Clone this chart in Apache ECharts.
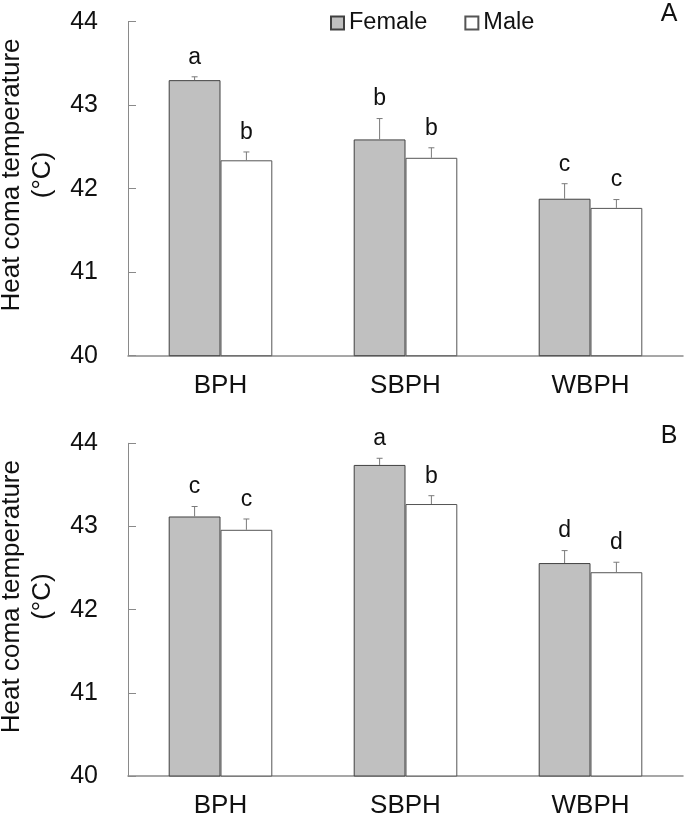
<!DOCTYPE html>
<html>
<head>
<meta charset="utf-8">
<script src="https://cdn.jsdelivr.net/npm/echarts@6/dist/echarts.min.js"></script>
<style>
  html, body { margin: 0; padding: 0; background: #fff; }
  #chart { width: 685px; height: 819px; }
</style>
</head>
<body>
<div id="chart"></div>
<script>
// ---- Data ----
const categories = ['BPH', 'SBPH', 'WBPH'];
const yTicks = [40, 41, 42, 43, 44];

// Panel A
const femaleA = [43.30, 42.59, 41.88];
const femaleAErr = [0.04, 0.25, 0.18];
const maleA = [42.34, 42.37, 41.77];
const maleAErr = [0.10, 0.12, 0.10];
const lettersFemaleA = ['a', 'b', 'c'];
const lettersMaleA = ['b', 'b', 'c'];

// Panel B
const femaleB = [43.12, 43.74, 42.56];
const femaleBErr = [0.12, 0.08, 0.15];
const maleB = [42.96, 43.27, 42.45];
const maleBErr = [0.13, 0.10, 0.12];
const lettersFemaleB = ['c', 'a', 'd'];
const lettersMaleB = ['c', 'b', 'd'];

const seriesNames = ['Female', 'Male'];
const panelLabels = ['A', 'B'];
const yTitle = 'Heat coma temperature';
const yUnit = '(°C)';

// ---- Styling ----
const FONT = 'Liberation Sans, Arial, sans-serif';
const AXIS_COLOR = '#8a8a8a';
const BAR_W = 0.28;

const chart = echarts.init(document.getElementById('chart'), null, { renderer: 'canvas' });

const grids = [
  { left: 128, right: 2, top: 21.7, bottom: 463.3 },
  { left: 128, right: 2, top: 443.3, bottom: 42.3 }
];

function xAxis(gi) {
  return {
    type: 'category', gridIndex: gi, data: categories,
    axisLine: { lineStyle: { color: AXIS_COLOR, width: 1.5 } },
    axisTick: { show: false },
    axisLabel: { fontFamily: FONT, fontSize: 26, color: '#111', margin: 17 }
  };
}
function yAxis(gi) {
  return {
    type: 'value', gridIndex: gi, min: yTicks[0], max: yTicks[yTicks.length - 1], interval: 1,
    axisLine: { show: true, lineStyle: { color: AXIS_COLOR, width: 1 } },
    axisTick: { show: true, inside: true, length: 8, lineStyle: { color: AXIS_COLOR } },
    splitLine: { show: false },
    axisLabel: { fontFamily: FONT, fontSize: 25, color: '#111', margin: 30 }
  };
}

function barSeries(name, gi, values, color, border) {
  return {
    name: name, type: 'bar', xAxisIndex: gi, yAxisIndex: gi,
    data: values, barWidth: (BAR_W * 100) + '%', barGap: '0%',
    itemStyle: { color: color, borderColor: border, borderWidth: 1 },
    emphasis: { disabled: true }, z: 2
  };
}

function errSeries(gi, values, errs, letters, side) {
  const data = values.map((v, i) => [i, v, errs[i], letters[i]]);
  return {
    type: 'custom', xAxisIndex: gi, yAxisIndex: gi, z: 5, silent: true,
    data: data,
    encode: { x: 0, y: 1 },
    renderItem: function (params, api) {
      const idx = api.value(0);
      const v = api.value(1);
      const e = api.value(2);
      const letter = data[params.dataIndex][3];
      const band = api.size([1, 0])[0];
      const off = side * BAR_W * band / 2;
      const p0 = api.coord([idx, v]);
      const p1 = api.coord([idx, v + e]);
      const x = p0[0] + off;
      return {
        type: 'group',
        children: [
          { type: 'line', shape: { x1: x, y1: p0[1], x2: x, y2: p1[1] },
            style: { stroke: '#7a7a7a', lineWidth: 1 } },
          { type: 'line', shape: { x1: x - 3, y1: p1[1], x2: x + 3, y2: p1[1] },
            style: { stroke: '#7a7a7a', lineWidth: 1 } },
          { type: 'text', x: x, y: p1[1] - 8,
            style: { text: letter, fontFamily: FONT, fontSize: 23, fill: '#111',
                     textAlign: 'center', textVerticalAlign: 'bottom' } }
        ]
      };
    }
  };
}

const graphics = [];
[[175, 14], [596.6, 436]].forEach((pos, i) => {
  graphics.push({ type: 'text', x: 12, y: pos[0], rotation: Math.PI / 2,
    style: { text: yTitle, fontFamily: FONT, fontSize: 26, fill: '#111', textAlign: 'center', textVerticalAlign: 'middle' } });
  graphics.push({ type: 'text', x: 43, y: pos[0], rotation: Math.PI / 2,
    style: { text: yUnit, fontFamily: FONT, fontSize: 26, fill: '#111', textAlign: 'center', textVerticalAlign: 'middle' } });
  graphics.push({ type: 'text', x: 669, y: pos[1],
    style: { text: panelLabels[i], fontFamily: FONT, fontSize: 25, fill: '#111', textAlign: 'center', textVerticalAlign: 'middle' } });
});

const option = {
  animation: false,
  backgroundColor: '#fff',
  legend: {
    data: seriesNames, left: 325, top: 6, icon: 'rect',
    itemWidth: 13, itemHeight: 13, itemGap: 37,
    textStyle: { fontFamily: FONT, fontSize: 23.5, color: '#111' },
    selectedMode: false
  },
  grid: grids,
  xAxis: [xAxis(0), xAxis(1)],
  yAxis: [yAxis(0), yAxis(1)],
  graphic: graphics,
  series: [
    barSeries(seriesNames[0], 0, femaleA, '#c0c0c0', '#404040'),
    barSeries(seriesNames[1], 0, maleA, '#ffffff', '#555555'),
    barSeries(seriesNames[0], 1, femaleB, '#c0c0c0', '#404040'),
    barSeries(seriesNames[1], 1, maleB, '#ffffff', '#555555'),
    errSeries(0, femaleA, femaleAErr, lettersFemaleA, -1),
    errSeries(0, maleA, maleAErr, lettersMaleA, 1),
    errSeries(1, femaleB, femaleBErr, lettersFemaleB, -1),
    errSeries(1, maleB, maleBErr, lettersMaleB, 1)
  ]
};
chart.setOption(option);
</script>
</body>
</html>
